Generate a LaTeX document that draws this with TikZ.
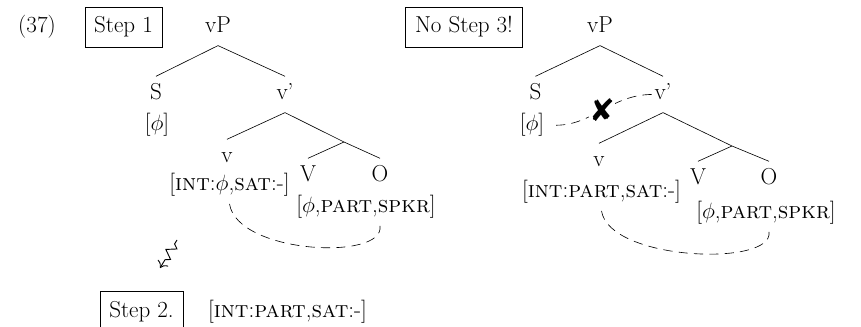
\documentclass[tikz,border=0pt]{standalone}
\usepackage{fontspec}
\newfontfamily\dingfont{DejaVu Sans}
\usetikzlibrary{decorations.pathmorphing,arrows.meta}

\begin{document}
\begin{tikzpicture}
      [
        x=0.65pt, y=-0.65pt,
        every node/.style={font=\fontsize{15}{18}\selectfont},
        cat/.style={anchor=base, inner xsep=1pt, inner ysep=5pt, text height=10.2pt, text depth=3pt},
        feat/.style={anchor=base, inner sep=4.5pt},
        stepbox/.style={draw, anchor=base, inner xsep=6pt, inner ysep=6pt, text height=10.5pt, text depth=3pt},
        branch/.style={draw},
        agree/.style={draw, dash pattern=on 6pt off 4pt},
        cross/.style={fill=white, inner sep=0pt, font=\dingfont\fontsize{20}{20}\selectfont},
        squiggle/.style={draw, line width=0.6pt, -{To[length=4pt,width=8pt]}, decorate,
          decoration={zigzag, segment length=8pt, amplitude=3pt, pre length=3pt, post length=5pt}}
      ]

      \useasboundingbox (0,0) rectangle (861,327);

      \node[anchor=base] (ex) at (37,33) {(37)};

      % first tree: v probes O
      \node[stepbox] (s1) at (123.5,33) {Step 1};
      \node[cat] (vPa) at (218,33) {vP};
      \node[cat] (Sa) at (156,100) {S};
      \node[cat] (vbara) at (285,100) {v'};
      \node[feat] (fSa) at (157,131) {[$\phi$]};
      \node[cat] (va) at (227,163) {v};
      \node[feat] (fIa) at (229.5,191) {[\textsc{int}:$\phi$,\textsc{sat}:-]};
      \coordinate (VPa) at (344,142);
      \node[cat] (Va) at (308,182) {V};
      \node[cat] (Oa) at (380,182) {O};
      \node[feat] (fOa) at (366,213) {[$\phi$,\textsc{part},\textsc{spkr}]};

      \draw[branch] (vPa.south) -- (Sa.north);
      \draw[branch] (vPa.south) -- (vbara.north);
      \draw[branch] (vbara.south) -- (va.north);
      \draw[branch] (vbara.south) -- (VPa) -- (Oa.north);
      \draw[branch] (VPa) -- (Va.north);
      \draw[agree] (fIa.south) .. controls +(8,50) and +(5,35) .. (fOa.south -| Oa);

      % result of step 1
      \coordinate (sqa) at (177,240);
      \coordinate (sqb) at (160,268);
      \draw[squiggle] (sqa) -- (sqb);
      \node[stepbox] (s2) at (141.5,317) {Step 2.};
      \node[anchor=base] (fRes) at (287.5,317) {[\textsc{int}:\textsc{part},\textsc{sat}:-]};

      % second tree: S blocked
      \node[stepbox] (s3) at (464,33) {No Step 3!};
      \node[cat] (vPb) at (600,33) {vP};
      \node[cat] (Sb) at (535.5,100) {S};
      \node[cat] (vbarb) at (663,100) {v'};
      \node[feat] (fSb) at (532,131) {[$\phi$]};
      \node[cat] (vb) at (599,167) {v};
      \node[feat] (fIb) at (601.5,198) {[\textsc{int}:\textsc{part},\textsc{sat}:-]};
      \coordinate (VPb) at (732,146);
      \node[cat] (Vb) at (698,185) {V};
      \node[cat] (Ob) at (769,185) {O};
      \node[feat] (fOb) at (766,219) {[$\phi$,\textsc{part},\textsc{spkr}]};

      \draw[branch] (vPb.south) -- (Sb.north);
      \draw[branch] (vPb.south) -- (vbarb.north);
      \draw[branch] (vbarb.south) -- (vb.north);
      \draw[branch] (vbarb.south) -- (VPb) -- (Ob.north);
      \draw[branch] (VPb) -- (Vb.north);
      \draw[agree] (fIb.south) .. controls +(8,50) and +(5,35) .. (fOb.south -| Ob);
      \draw[agree, shorten <=3pt] (fSb.east) to[out=0, in=180] node[cross] {✘} (vbarb.west);

    \end{tikzpicture}
\end{document}
